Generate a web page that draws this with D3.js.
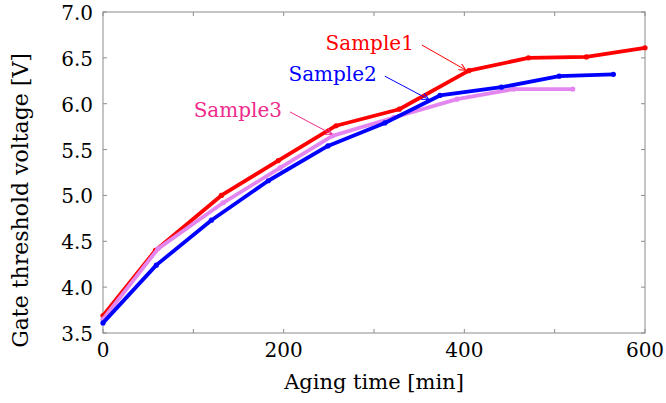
<!DOCTYPE html>
<html>
<head>
<meta charset="utf-8">
<script src="https://cdn.jsdelivr.net/npm/d3@7"></script>
<style>
  body { margin: 0; background: #fff; }
</style>
</head>
<body>
<svg id="chart" width="666" height="403"></svg>
<script>
// --- data (aging time in min, threshold voltage in V) ---
const time1 = [0, 58, 131, 194, 258, 328, 405, 471, 535, 600];
const volt1 = [3.69, 4.40, 5.00, 5.38, 5.76, 5.94, 6.36, 6.50, 6.51, 6.61];

const time2 = [0, 59, 120, 183, 249, 312, 373, 441, 505, 565];
const volt2 = [3.61, 4.24, 4.73, 5.16, 5.54, 5.79, 6.09, 6.18, 6.30, 6.32];

const time3 = [0, 61, 133, 196, 254, 322, 392, 455, 520];
const volt3 = [3.65, 4.42, 4.92, 5.30, 5.65, 5.85, 6.05, 6.16, 6.16];

const xTicks = [0, 100, 200, 300, 400, 500, 600];
const xLabels = [0, 200, 400, 600];
const yTicks = [3.5, 4.0, 4.5, 5.0, 5.5, 6.0, 6.5, 7.0];

// annotation: label, arrow start (t, v), arrow end (t, v)
const noteNames = ["Sample1", "Sample2", "Sample3"];
const noteFrom = [[353, 6.64], [312, 6.30], [207, 5.91]];
const noteTo = [[401, 6.37], [360, 6.05], [253, 5.67]];

// --- setup ---
const margin = { top: 12, right: 21, bottom: 70, left: 103 };
const width = 666 - margin.left - margin.right;
const height = 403 - margin.top - margin.bottom;
const font = "DejaVu Serif";
const fs = 20;

const svg = d3.select("#chart");
const g = svg.append("g").attr("transform", `translate(${margin.left},${margin.top})`);

const x = d3.scaleLinear().domain([0, 600]).range([0, width]);
const y = d3.scaleLinear().domain([3.5, 7.0]).range([height, 0]);

const series = [
    { name: "Sample1", t: time1, v: volt1, color: "#ff0000", text: "#ff0000" },
    { name: "Sample3", t: time3, v: volt3, color: "#e486f0", text: "#ee2a8c" },
    { name: "Sample2", t: time2, v: volt2, color: "#0000ff", text: "#0000ff" }
];

// --- axes: inward ticks on all four sides ---
const axisColor = "#8c8c8c";
const tickLen = 4;

g.append("rect")
    .attr("width", width).attr("height", height)
    .attr("fill", "none").attr("stroke", axisColor).attr("stroke-width", 1);

g.append("g").selectAll("line")
    .data(xTicks)
    .join("line")
    .attr("x1", d => x(d)).attr("x2", d => x(d))
    .attr("y1", height).attr("y2", height - tickLen)
    .attr("stroke", axisColor);
g.append("g").selectAll("line")
    .data(xTicks)
    .join("line")
    .attr("x1", d => x(d)).attr("x2", d => x(d))
    .attr("y1", 0).attr("y2", tickLen)
    .attr("stroke", axisColor);
g.append("g").selectAll("line")
    .data(yTicks)
    .join("line")
    .attr("x1", 0).attr("x2", tickLen)
    .attr("y1", d => y(d)).attr("y2", d => y(d))
    .attr("stroke", axisColor);
g.append("g").selectAll("line")
    .data(yTicks)
    .join("line")
    .attr("x1", width).attr("x2", width - tickLen)
    .attr("y1", d => y(d)).attr("y2", d => y(d))
    .attr("stroke", axisColor);

g.append("g").selectAll("text")
    .data(xLabels)
    .join("text")
    .attr("x", d => x(d))
    .attr("y", height + 24)
    .attr("text-anchor", "middle")
    .attr("font-family", font)
    .attr("font-size", fs)
    .text(d => d);

g.append("g").selectAll("text")
    .data(yTicks)
    .join("text")
    .attr("x", -10)
    .attr("y", d => y(d) + 8)
    .attr("text-anchor", "end")
    .attr("font-family", font)
    .attr("font-size", fs)
    .text(d => d.toFixed(1));

g.append("text")
    .attr("x", width / 2)
    .attr("y", height + 56)
    .attr("text-anchor", "middle")
    .attr("font-family", font)
    .attr("font-size", 21)
    .text("Aging time [min]");

g.append("text")
    .attr("transform", `translate(${-75},${height / 2 + 28}) rotate(-90)`)
    .attr("text-anchor", "middle")
    .attr("font-family", font)
    .attr("font-size", 22)
    .text("Gate threshold voltage [V]");

// --- lines ---
const line = d3.line().x(d => x(d[0])).y(d => y(d[1]));

series.forEach(s => {
    const pts = s.t.map((t, i) => [t, s.v[i]]);
    g.append("path")
        .datum(pts)
        .attr("d", line)
        .attr("fill", "none")
        .attr("stroke", s.color)
        .attr("stroke-width", 3.8)
        .attr("stroke-linejoin", "round");
    g.append("g").selectAll("circle")
        .data(pts)
        .join("circle")
        .attr("cx", d => x(d[0]))
        .attr("cy", d => y(d[1]))
        .attr("r", 2.6)
        .attr("fill", s.color);
});

// --- annotations ---
const defs = svg.append("defs");
series.forEach(s => {
    defs.append("marker")
        .attr("id", "arrow-" + s.name)
        .attr("viewBox", "0 0 10 10")
        .attr("refX", 9).attr("refY", 5)
        .attr("markerWidth", 7).attr("markerHeight", 7)
        .attr("markerUnits", "userSpaceOnUse")
        .attr("orient", "auto")
        .append("path")
        .attr("d", "M0,0 L10,5 L0,10")
        .attr("fill", "none")
        .attr("stroke", s.text)
        .attr("stroke-width", 1.4);
});

noteNames.forEach((name, i) => {
    const s = series.find(d => d.name === name);
    const [t0, v0] = noteFrom[i];
    const [t1, v1] = noteTo[i];
    g.append("line")
        .attr("x1", x(t0)).attr("y1", y(v0))
        .attr("x2", x(t1)).attr("y2", y(v1))
        .attr("stroke", s.text)
        .attr("stroke-width", 1)
        .attr("marker-end", `url(#arrow-${name})`);
    g.append("text")
        .attr("x", x(t0) - 8)
        .attr("y", y(v0) + 5)
        .attr("text-anchor", "end")
        .attr("fill", s.text)
        .attr("font-family", font)
        .attr("font-size", fs)
        .text(name);
});
</script>
</body>
</html>
